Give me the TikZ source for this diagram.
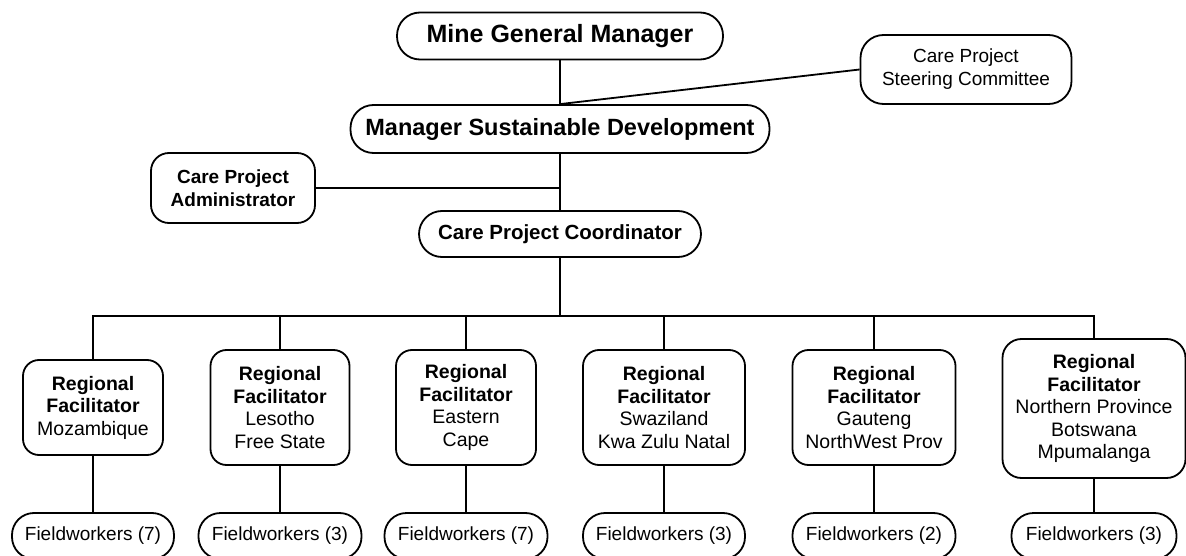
\documentclass[tikz,border=0pt]{standalone}
\usepackage{fontspec}
\setmainfont{Liberation Sans}
\usepackage{xcolor}
\usepackage{tikz}

\begin{document}
\begin{tikzpicture}[x=1pt, y=-1pt, line width=1.8pt,
  pill/.style={draw, rounded corners=23pt, inner sep=0pt, align=center},
  regbox/.style={draw, rounded corners=16pt, inner sep=0pt, align=center, font=\fontsize{19.5}{22.5}\selectfont},
  fieldbox/.style={draw, rounded corners=22pt, inner sep=0pt, minimum height=46pt, font=\fontsize{19}{22}\selectfont}]%
\useasboundingbox (0,0) rectangle (1186,556);%
\node[pill, minimum width=326pt, minimum height=47pt, font=\fontsize{25}{28}\selectfont\bfseries] (mgm) at (560, 36) {Mine General Manager};%
\node[pill, minimum width=211pt, minimum height=69pt, font=\fontsize{19}{23}\selectfont] (steer) at (966, 69.5) {Care Project\\Steering Committee};%
\node[pill, minimum width=419pt, minimum height=48pt, font=\fontsize{23.5}{27}\selectfont\bfseries] (msd) at (560, 129) {Manager Sustainable Development};%
\node[pill, rounded corners=18pt, minimum width=164pt, minimum height=70pt, font=\fontsize{19}{23}\selectfont\bfseries] (admin) at (233, 188) {Care Project\\Administrator};%
\node[pill, minimum width=282pt, minimum height=46pt, font=\fontsize{20.5}{24}\selectfont\bfseries] (coord) at (560, 234) {Care Project Coordinator};%
\coordinate (bus) at (560, 316);%
\node[regbox, minimum width=140pt, minimum height=95pt] (r1) at (93, 407.5) {\textbf{Regional}\\\textbf{Facilitator}\\Mozambique};%
\node[regbox, minimum width=139pt, minimum height=115pt] (r2) at (280, 407.5) {\textbf{Regional}\\\textbf{Facilitator}\\Lesotho\\Free State};%
\node[regbox, minimum width=140pt, minimum height=115pt] (r3) at (466, 407.5) {\textbf{Regional}\\\textbf{Facilitator}\\Eastern\\Cape};%
\node[regbox, minimum width=162pt, minimum height=115pt] (r4) at (664, 407.5) {\textbf{Regional}\\\textbf{Facilitator}\\Swaziland\\Kwa Zulu Natal};%
\node[regbox, minimum width=163pt, minimum height=115pt] (r5) at (874, 407.5) {\textbf{Regional}\\\textbf{Facilitator}\\Gauteng\\NorthWest Prov};%
\node[regbox, rounded corners=19pt, minimum width=183pt, minimum height=139pt] (r6) at (1094, 408.5) {\textbf{Regional}\\\textbf{Facilitator}\\Northern Province\\Botswana\\Mpumalanga};%
\node[fieldbox, minimum width=162pt] (f1) at (93, 536) {Fieldworkers (7)};%
\node[fieldbox, minimum width=163pt] (f2) at (280, 536) {Fieldworkers (3)};%
\node[fieldbox, minimum width=163pt] (f3) at (466, 536) {Fieldworkers (7)};%
\node[fieldbox, minimum width=162pt] (f4) at (664, 536) {Fieldworkers (3)};%
\node[fieldbox, minimum width=163pt] (f5) at (874, 536) {Fieldworkers (2)};%
\node[fieldbox, minimum width=165pt] (f6) at (1094, 536) {Fieldworkers (3)};%
\draw (mgm.south) -- (msd.north);%
\draw (steer.west) -- (msd.north);%
\draw (msd.south) -- (coord.north);%
\draw (admin.east) -- (admin.east -| msd.south);%
\draw (coord.south) -- (bus);%
\draw (r1.north) -- (r1.north |- bus) -- (r6.north |- bus) -- (r6.north);%
\draw (r2.north) -- (r2.north |- bus);%
\draw (r3.north) -- (r3.north |- bus);%
\draw (r4.north) -- (r4.north |- bus);%
\draw (r5.north) -- (r5.north |- bus);%
\draw (r1.south) -- (f1.north);%
\draw (r2.south) -- (f2.north);%
\draw (r3.south) -- (f3.north);%
\draw (r4.south) -- (f4.north);%
\draw (r5.south) -- (f5.north);%
\draw (r6.south) -- (f6.north);%
\end{tikzpicture}
\end{document}
